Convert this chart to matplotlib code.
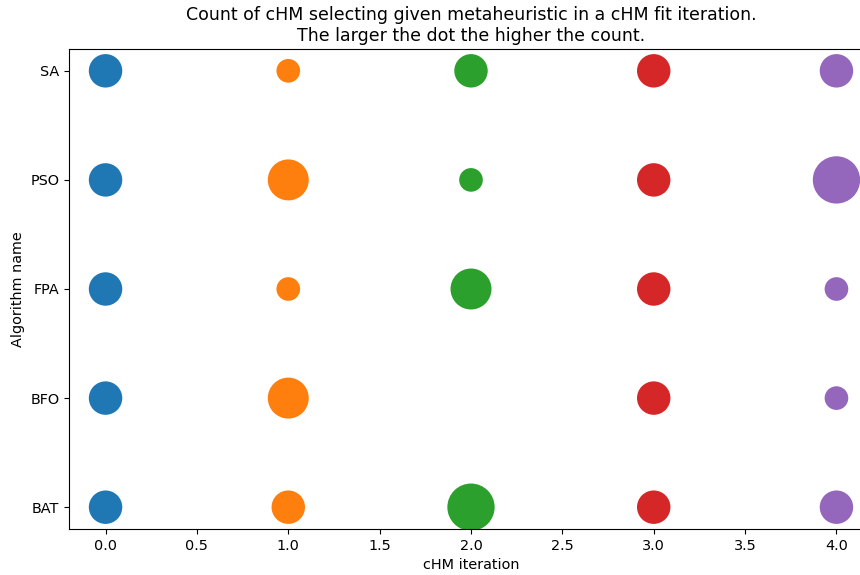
import numpy as np
import matplotlib.pyplot as plt

# number of cHM runs (out of 10) picking each metaheuristic, per iteration
algorithms = ["BAT", "BFO", "FPA", "PSO", "SA"]
iterations = [0, 1, 2, 3, 4]
counts = {
    0: [2, 2, 2, 2, 2],
    1: [2, 3, 1, 3, 1],
    2: [4, 0, 3, 1, 2],
    3: [2, 2, 2, 2, 2],
    4: [2, 1, 1, 4, 2],
}
colors = ["#1f77b4", "#ff7f0e", "#2ca02c", "#d62728", "#9467bd"]

plt.rcParams["font.size"] = 10.4

fig = plt.figure(figsize=(8.6, 5.75), dpi=100)
ax = fig.add_axes([69 / 860, 46 / 575, 804 / 860, 480 / 575])

y_pos = np.arange(len(algorithms))
for it in iterations:
    c = np.array(counts[it])
    ax.scatter(np.full(len(algorithms), it), y_pos, s=c * 290,
               color=colors[it], edgecolors="none")

ax.set_xlim(-0.2, 4.2)
ax.set_ylim(-0.2, 4.2)
ax.set_xticks(np.arange(0, 4.01, 0.5))
ax.set_yticks(y_pos)
ax.set_yticklabels(algorithms)
ax.set_xlabel("cHM iteration")
ax.set_ylabel("Algorithm name")
ax.set_title("Count of cHM selecting given metaheuristic in a cHM fit iteration.\n"
             "The larger the dot the higher the count.", fontsize=12.5)

fig.savefig("out.png", dpi=100)
